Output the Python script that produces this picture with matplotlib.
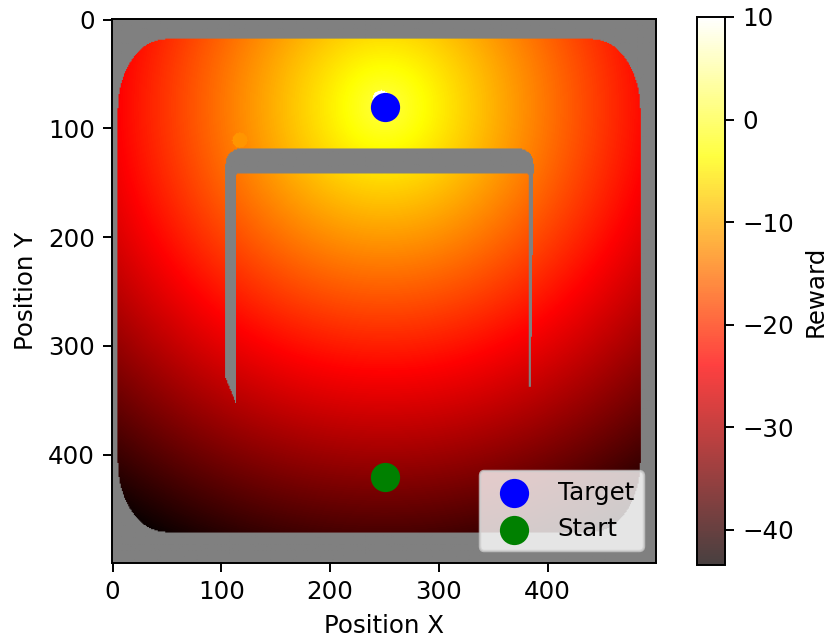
import numpy as np
import matplotlib
matplotlib.use("Agg")
import matplotlib.pyplot as plt
from matplotlib.colors import ListedColormap, Normalize
from matplotlib.cm import ScalarMappable

# grid / scene description
grid_size = 500
target = (250, 80)
start = (250, 420)
goal_zone = (247, 73, 8)          # cx, cy, radius -> reward 10
goal_reward = 10.0
bonus_zone = (117, 111, 7)         # small flat patch
bonus_reward = -12.0
dist_scale = 10.2                  # reward = -distance / dist_scale

# free space: rounded rectangle
arena_x = (5, 485)
arena_y = (18, 471)
arena_corner = (44, 64)            # rx, ry

# inverted U obstacle
bar_x = (104, 387)
bar_y = (118.6, 141)
bar_corner = 14
left_leg_x = (104, 113)
left_leg_end = (329, 352)          # bottom at outer / inner edge
right_leg_x = (383, 387)
right_leg_end = 337
right_leg_taper = 2.6
fillet = 5

yy, xx = np.mgrid[0:grid_size, 0:grid_size].astype(float)

# arena mask
rx, ry = arena_corner
dx = np.maximum.reduce([arena_x[0] + rx - xx, np.zeros_like(xx), xx - (arena_x[1] - rx)])
dy = np.maximum.reduce([arena_y[0] + ry - yy, np.zeros_like(yy), yy - (arena_y[1] - ry)])
free = ((dx / rx) ** 2 + (dy / ry) ** 2 <= 1) & (xx >= arena_x[0]) & (xx <= arena_x[1]) \
    & (yy >= arena_y[0]) & (yy <= arena_y[1])

# top bar with rounded outer corners
wall = (xx >= bar_x[0]) & (xx <= bar_x[1]) & (yy >= bar_y[0]) & (yy <= bar_y[1])
for cx in (bar_x[0] + bar_corner, bar_x[1] - bar_corner):
    cy = bar_y[0] + bar_corner
    in_box = (np.abs(xx - cx) <= bar_corner) & (yy < cy) & ((xx < cx) if cx < 250 else (xx > cx))
    wall &= ~(in_box & ((xx - cx) ** 2 + (yy - cy) ** 2 > bar_corner ** 2))

# left leg, slanted bottom
lx0, lx1 = left_leg_x
frac = (xx - lx0) / (lx1 - lx0)
wall |= (xx >= lx0) & (xx <= lx1) & (yy >= bar_y[1]) \
    & (yy <= left_leg_end[0] + frac * (left_leg_end[1] - left_leg_end[0]))

# right leg, thinning towards the bottom
rx0, rx1 = right_leg_x
taper = right_leg_taper * (yy - bar_y[1]) / (right_leg_end - bar_y[1])
wall |= (xx >= rx0) & (xx <= rx1 - np.clip(taper, 0, None)) & (yy >= bar_y[1]) & (yy <= right_leg_end)

# small fillets where the legs meet the bar
for cx, side in ((lx1 + fillet, -1), (rx0 - fillet, 1)):
    cy = bar_y[1] + fillet
    box = (yy >= bar_y[1]) & (yy <= cy) & (side * (xx - cx) >= 0) & (side * (xx - cx) <= fillet)
    wall |= box & ((xx - cx) ** 2 + (yy - cy) ** 2 > fillet ** 2)

free &= ~wall

# reward field
reward = -np.hypot(xx - target[0], yy - target[1]) / dist_scale
gx, gy, gr = goal_zone
reward[(xx - gx) ** 2 + (yy - gy) ** 2 <= gr ** 2] = goal_reward
bx, by, br = bonus_zone
reward[(xx - bx) ** 2 + (yy - by) ** 2 <= br ** 2] = bonus_reward
reward = np.ma.masked_where(~free, reward)

cmap = plt.get_cmap("hot").copy()
cmap.set_bad("gray")
norm = Normalize(vmin=reward.min(), vmax=reward.max())

dpi = 176
fig = plt.figure(figsize=(826 / dpi, 637 / dpi), dpi=dpi)
ax = fig.add_axes([112 / 826, 72 / 637, 544 / 826, 548 / 637])
cax = fig.add_axes([697 / 826, 72 / 637, 28 / 826, 548 / 637])

ax.imshow(reward, cmap=cmap, norm=norm)
ax.scatter(*target, s=120, c="blue", label="Target")
ax.scatter(*start, s=120, c="green", label="Start")
ax.set_xlabel("Position X")
ax.set_ylabel("Position Y")
ax.legend(loc="lower right")

# colorbar drawn semi-transparent
bar_colors = plt.get_cmap("hot")(np.linspace(0, 1, 256))
bar_colors[:, 3] = 0.75
cb = fig.colorbar(ScalarMappable(norm=norm, cmap=ListedColormap(bar_colors)), cax=cax)
cb.set_label("Reward")

fig.savefig("out.png", dpi=dpi)
